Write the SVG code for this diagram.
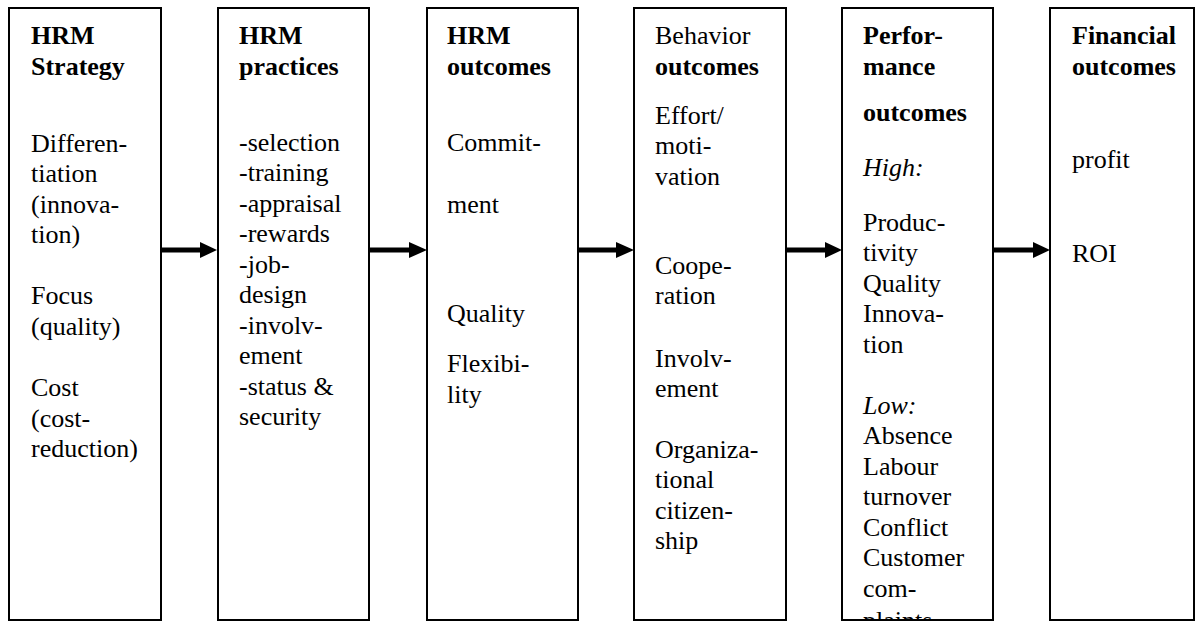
<svg xmlns="http://www.w3.org/2000/svg" width="1196" height="621" viewBox="0 0 1196 621">
<style>
.box{fill:#fff;stroke:#000;stroke-width:2}
text{font-family:"Liberation Serif","Times New Roman",serif;font-size:26px;fill:#000}
.b{font-weight:bold}
.i{font-style:italic}
.shaft{stroke:#000;stroke-width:5}
.head{fill:#000}
</style>
<defs>
<clipPath id="clip5"><rect x="843" y="9" width="149" height="610"/></clipPath>
</defs>
<rect width="1196" height="621" fill="#fff"/>
<g id="connectors">
<line class="shaft" x1="162" y1="250" x2="201" y2="250"/><polygon class="head" points="200,242 217,250 200,258"/>
<line class="shaft" x1="370" y1="250" x2="410" y2="250"/><polygon class="head" points="409,242 427,250 409,258"/>
<line class="shaft" x1="579" y1="250" x2="617" y2="250"/><polygon class="head" points="616,242 634,250 616,258"/>
<line class="shaft" x1="787" y1="250" x2="826" y2="250"/><polygon class="head" points="825,242 842,250 825,258"/>
<line class="shaft" x1="994" y1="250" x2="1034" y2="250"/><polygon class="head" points="1033,242 1050,250 1033,258"/>
</g>
<g id="n1">
<rect class="box" x="9" y="8" width="152" height="612"/>
<text x="31" y="44" class="b">HRM</text>
<text x="31" y="75" class="b">Strategy</text>
<text x="31" y="152">Differen-</text>
<text x="31" y="182">tiation</text>
<text x="31" y="213">(innova-</text>
<text x="31" y="243">tion)</text>
<text x="31" y="304">Focus</text>
<text x="31" y="335">(quality)</text>
<text x="31" y="396">Cost</text>
<text x="31" y="427">(cost-</text>
<text x="31" y="457">reduction)</text>
</g>
<g id="n2">
<rect class="box" x="218" y="8" width="151" height="612"/>
<text x="239" y="44" class="b">HRM</text>
<text x="239" y="75" class="b">practices</text>
<text x="239" y="151">-selection</text>
<text x="239" y="181">-training</text>
<text x="239" y="212">-appraisal</text>
<text x="239" y="242">-rewards</text>
<text x="239" y="273">-job-</text>
<text x="239" y="303">design</text>
<text x="239" y="334">-involv-</text>
<text x="239" y="364">ement</text>
<text x="239" y="395">-status &amp;</text>
<text x="239" y="425">security</text>
</g>
<g id="n3">
<rect class="box" x="427" y="8" width="151" height="612"/>
<text x="447" y="44" class="b">HRM</text>
<text x="447" y="75" class="b">outcomes</text>
<text x="447" y="151">Commit-</text>
<text x="447" y="213">ment</text>
<text x="447" y="322">Quality</text>
<text x="447" y="372">Flexibi-</text>
<text x="447" y="403">lity</text>
</g>
<g id="n4">
<rect class="box" x="634" y="8" width="152" height="612"/>
<text x="655" y="44">Behavior</text>
<text x="655" y="75" class="b">outcomes</text>
<text x="655" y="124">Effort/</text>
<text x="655" y="154">moti-</text>
<text x="655" y="185">vation</text>
<text x="655" y="274">Coope-</text>
<text x="655" y="304">ration</text>
<text x="655" y="367">Involv-</text>
<text x="655" y="397">ement</text>
<text x="655" y="458">Organiza-</text>
<text x="655" y="488">tional</text>
<text x="655" y="519">citizen-</text>
<text x="655" y="549">ship</text>
</g>
<g id="n5">
<rect class="box" x="842" y="8" width="151" height="612"/>
<g clip-path="url(#clip5)">
<text x="863" y="44" class="b">Perfor-</text>
<text x="863" y="75" class="b">mance</text>
<text x="863" y="121" class="b">outcomes</text>
<text x="863" y="176" class="i">High:</text>
<text x="863" y="231">Produc-</text>
<text x="863" y="261">tivity</text>
<text x="863" y="292">Quality</text>
<text x="863" y="322">Innova-</text>
<text x="863" y="353">tion</text>
<text x="863" y="414" class="i">Low:</text>
<text x="863" y="444">Absence</text>
<text x="863" y="475">Labour</text>
<text x="863" y="505">turnover</text>
<text x="863" y="536">Conflict</text>
<text x="863" y="566">Customer</text>
<text x="863" y="597">com-</text>
<text x="863" y="629">plaints</text>
</g>
</g>
<g id="n6">
<rect class="box" x="1050" y="8" width="144" height="612"/>
<text x="1072" y="44" class="b">Financial</text>
<text x="1072" y="75" class="b">outcomes</text>
<text x="1072" y="168">profit</text>
<text x="1072" y="262">ROI</text>
</g>
</svg>
